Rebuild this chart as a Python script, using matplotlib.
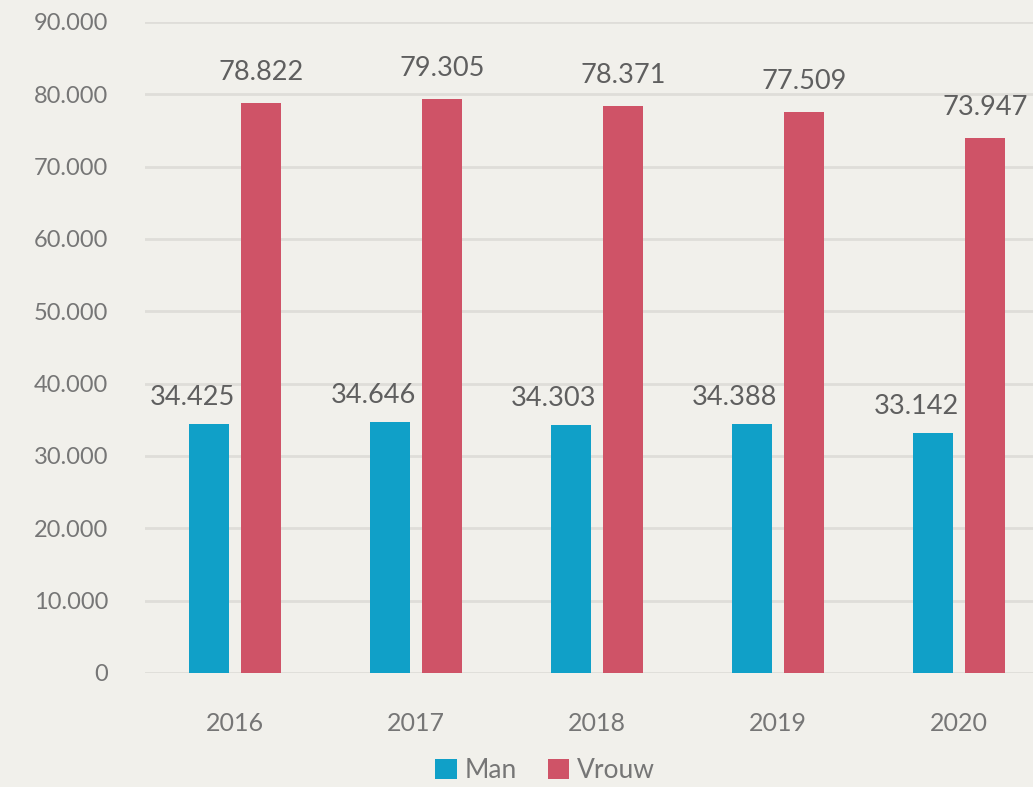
import matplotlib.pyplot as plt
import numpy as np
from matplotlib.ticker import FuncFormatter

years = ['2016', '2017', '2018', '2019', '2020']
man = [34425, 34646, 34303, 34388, 33142]
vrouw = [78822, 79305, 78371, 77509, 73947]

blue = '#10a0c8'
red = '#cf5367'
grey = '#767676'
bg = '#f1f0eb'

plt.rcParams['font.family'] = ['Lato', 'DejaVu Sans']

fig = plt.figure(figsize=(10.33, 7.87), dpi=100, facecolor=bg)
ax = fig.add_axes([0.1399, 0.1449, 0.876, 0.8272], facecolor=bg)

x = np.arange(len(years))
w = 0.221
off = 0.1436
b1 = ax.bar(x - off, man, w, color=blue, label='Man', zorder=3)
b2 = ax.bar(x + off, vrouw, w, color=red, label='Vrouw', zorder=3)


def fmt(v):
    return '{:,.0f}'.format(v).replace(',', '.')


for xi, v in zip(x, man):
    ax.annotate(fmt(v), (xi - off, v), xytext=(-17, 14), textcoords='offset pixels',
                ha='center', va='bottom', fontsize=19.5, color='#5f5f5f')
for xi, v in zip(x, vrouw):
    ax.annotate(fmt(v), (xi + off, v), xytext=(0, 18), textcoords='offset pixels',
                ha='center', va='bottom', fontsize=19.5, color='#5f5f5f')

ax.set_xlim(-0.5, 4.5)
ax.set_ylim(0, 90000)
ax.set_yticks(range(0, 90001, 10000))
ax.yaxis.set_major_formatter(FuncFormatter(lambda v, p: fmt(v)))
ax.set_xticks(x)
ax.set_xticklabels(years)
ax.tick_params(axis='y', length=0, pad=26, labelsize=17, labelcolor=grey)
ax.tick_params(axis='x', length=0, pad=28, labelsize=18, labelcolor=grey)
ax.grid(axis='y', color='#dfddd9', linewidth=2, zorder=0)
for s in ax.spines.values():
    s.set_visible(False)

fig.legend(handles=[b1, b2], loc='lower center', bbox_to_anchor=(0.528, 0.005),
           ncol=2, frameon=False, fontsize=19, labelcolor=grey, borderaxespad=0, borderpad=0,
           handlelength=0.8, handleheight=0.8, handletextpad=0.3, columnspacing=1.2)

fig.savefig('out.png', dpi=100, facecolor=bg)
